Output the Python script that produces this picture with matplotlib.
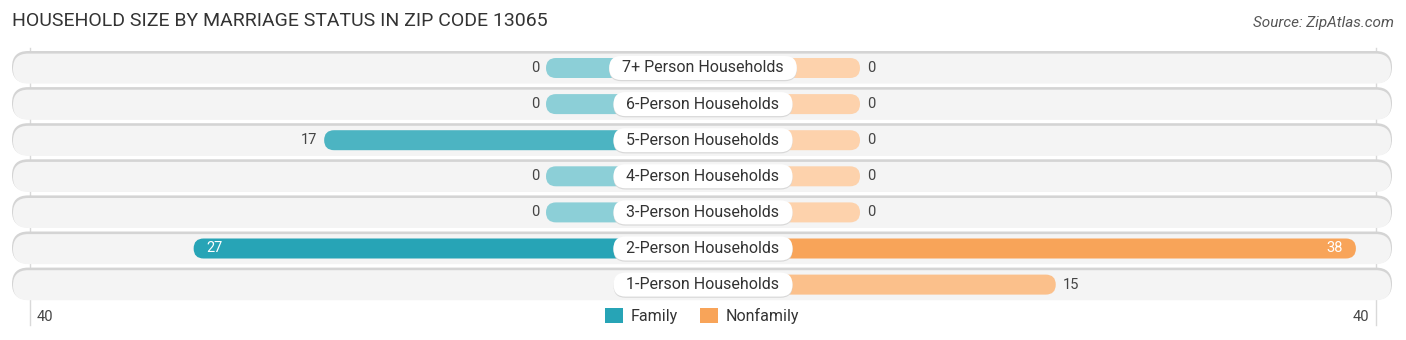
import numpy as np
import matplotlib.pyplot as plt
from matplotlib.patches import FancyBboxPatch, Patch
from matplotlib.colors import to_rgb

# data (None = no value shown)
categories = ["7+ Person Households", "6-Person Households", "5-Person Households",
              "4-Person Households", "3-Person Households", "2-Person Households",
              "1-Person Households"]
family = [0, 0, 17, 0, 0, 27, None]
nonfamily = [0, 0, 0, 0, 0, 38, 15]
axis_max = 40

plt.rcParams['font.family'] = ['Roboto', 'DejaVu Sans']

# layout (in value units, 1 unit ~ 13 px)
px = 13.05
off = 157 / px          # bar stub hidden under the centre label
step = 36.1 / px        # row spacing
bar_h = 20 / px
bg_h = 30 / px

fig = plt.figure(figsize=(14.06, 3.4), dpi=100)
ax = fig.add_axes([0, 0, 1, 1])
ax.set_xlim(-703 / px, 703 / px)
ax.set_ylim((340 - 68) / px, -68 / px)
ax.axis('off')
renderer = fig.canvas.get_renderer()


def mix(c1, c2, t):
    a, b = np.array(to_rgb(c1)), np.array(to_rgb(c2))
    return tuple(a + (b - a) * t)


def pill(x0, x1, y, h, color, z):
    r = h / 2
    p = FancyBboxPatch((x0, y - h / 2), x1 - x0, h,
                       boxstyle="round,pad=0,rounding_size=%f" % r,
                       fc=color, ec='none', lw=0, zorder=z)
    ax.add_patch(p)
    return p


# grid lines at +-axis_max
edge = 673 / px
for xe in (-edge, edge):
    ax.plot([xe, xe], [-20 / px, (325 - 68) / px], color='#d9d9d9', lw=1, zorder=0)

fmax = max(v for v in family if v is not None)
nmax = max(v for v in nonfamily if v is not None)
for i, cat in enumerate(categories):
    y = i * step
    # background row
    pill(-691 / px, 689 / px, y - 1 / px, bg_h + 2 / px, '#d4d4d4', 1)
    pill(-690 / px, 688 / px, y + 0.6 / px, bg_h, '#f4f4f4', 2)

    f, n = family[i], nonfamily[i]
    if f is not None:
        fc = mix('#8ccfd7', '#27a4b6', f / fmax)
        pill(-(off + f), 0, y, bar_h, fc, 3)
        if f >= 25:
            ax.text(-(off + f) + 13 / px, y, str(f), ha='left', va='center', fontsize=10.5,
                    color='white', zorder=6)
        else:
            ax.text(-(off + f) - 7 / px, y, str(f), ha='right', va='center', fontsize=10.5,
                    color='#444444', zorder=6)
    if n is not None:
        nc = mix('#fdd2ac', '#f8a459', n / nmax)
        pill(0, off + n, y, bar_h, nc, 3)
        if n >= 25:
            ax.text(off + n - 13 / px, y, str(n), ha='right', va='center', fontsize=10.5,
                    color='white', zorder=6)
        else:
            ax.text(off + n + 7 / px, y, str(n), ha='left', va='center', fontsize=10.5,
                    color='#444444', zorder=6)

    # centre label in a white pill with a faint shadow
    t = ax.text(0, y, cat, ha='center', va='center', fontsize=11.5, color='#333333', zorder=6)
    w = t.get_window_extent(renderer).width / px
    half = w / 2 + 13 / px
    pill(-half, half, y + 1.2 / px, 24 / px, '#d8d8d8', 4)
    pill(-half, half, y, 24 / px, 'white', 5)

# axis labels
ya = (317 - 68) / px
ax.text(-658 / px, ya, str(axis_max), ha='center', va='center', fontsize=10.5, color='#444444')
ax.text(658 / px, ya, str(axis_max), ha='center', va='center', fontsize=10.5, color='#444444')

# legend
handles = [Patch(fc='#27a4b6', ec='none', label='Family'),
           Patch(fc='#f8a459', ec='none', label='Nonfamily')]
ax.legend(handles=handles, loc='center', bbox_to_anchor=(0.4995, 1 - 316 / 340), ncol=2,
          frameon=False, fontsize=11.5, handlelength=1.1, handleheight=1.1,
          handletextpad=0.5, columnspacing=1.4, labelcolor='#333333')

fig.text(12 / 1406, 1 - 21 / 340, "HOUSEHOLD SIZE BY MARRIAGE STATUS IN ZIP CODE 13065",
         ha='left', va='center', fontsize=14, color='#333333')
fig.text(1 - 12 / 1406, 1 - 23 / 340, "Source: ZipAtlas.com", ha='right', va='center',
         fontsize=11, color='#555555', style='italic')

fig.savefig('out.png', dpi=100)
